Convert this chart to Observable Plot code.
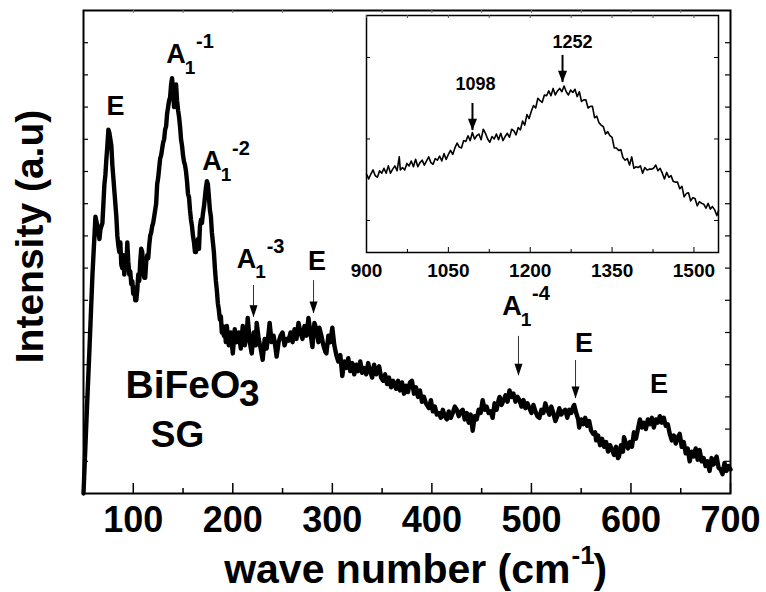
<!DOCTYPE html>
<html><head><meta charset="utf-8">
<script src="https://cdn.jsdelivr.net/npm/d3@7"></script>
<script src="https://cdn.jsdelivr.net/npm/@observablehq/plot@0.6"></script>
<style>
body{margin:0;background:#fff}
#wrap{position:relative;width:766px;height:592px}
#wrap svg{position:absolute;left:0;top:0}
</style></head><body><div id="wrap"></div>
<script>
// ---------- main Raman spectrum [wave number, intensity] ----------
const mainSpectrum = [[50,0],[53,2.3],[56,4.5],[59,6.8],[62,8.6],[64,8.3],[66,7.9],[67,8.2],[69,8.4],[71,9.6],[72,9.9],[73,10.4],[74,10.8],[75,11.3],[76,11.2],[77,11.0],[78,10.8],[79,10.2],[80,9.8],[81,9.4],[82,9.0],[83,8.6],[84,8.0],[85,7.7],[86,7.5],[87,7.8],[88,7.1],[89,7.0],[90,7.4],[91,6.8],[92,7.2],[93,7.0],[94,7.8],[95,7.2],[96,6.8],[97,6.9],[98,6.5],[99,6.6],[100,6.2],[101,6.4],[102,6.0],[103,6.0],[104,6.3],[105,6.8],[106,6.6],[107,7.2],[108,7.6],[109,7.5],[110,7.0],[111,6.7],[112,6.7],[113,7.2],[114,7.4],[115,7.3],[116,7.7],[117,8.0],[118,8.1],[119,8.3],[120,8.4],[121,8.6],[122,8.8],[123,9.0],[124,9.6],[125,9.8],[126,10.1],[127,10.4],[128,10.5],[129,10.7],[130,10.9],[131,11.0],[132,11.3],[133,11.4],[134,11.8],[135,12.0],[136,12.2],[137,12.3],[138,12.7],[139,12.9],[140,12.5],[141,12.0],[142,12.4],[143,12.7],[144,12.2],[145,11.9],[146,11.7],[147,11.4],[148,11.0],[149,10.8],[150,10.5],[151,10.3],[152,10.2],[153,10.0],[154,9.7],[155,9.3],[156,9.2],[157,8.8],[158,8.5],[159,8.3],[160,8.0],[161,7.8],[162,7.5],[163,7.5],[164,7.8],[165,7.9],[166,7.6],[167,8.3],[168,8.5],[169,8.4],[170,8.7],[171,8.9],[172,9.2],[173,9.5],[174,9.7],[175,9.6],[176,9.2],[177,8.8],[178,8.6],[179,8.1],[180,7.8],[181,7.5],[182,7.0],[183,6.6],[184,6.3],[185,5.9],[186,5.7],[187,5.4],[188,5.5],[189,5.0],[190,5.2],[191,4.9],[192,5.1],[193,4.7],
[194,5.2],[196,4.6],[198,5.0],[200,4.35],[202,5.1],[204,4.7],[206,5.0],[208,4.5],[210,5.2],[212,4.6],[214,5.0],[215,5.45],[217,4.7],[219,4.35],[221,5.0],[223,4.6],[224,5.3],[226,4.8],[228,4.5],[230,4.15],[232,4.8],[234,4.5],[236,5.0],[237,5.3],[239,4.7],[241,4.9],[243,4.5],[244,4.25],[246,4.7],[248,4.9],[250,5.0],[252,4.6],[254,4.8],[256,4.75],[258,5.0],[260,4.7],[262,5.1],[264,4.8],[266,5.3],[268,5.0],[270,4.8],[272,5.2],[274,4.9],[276,5.45],[278,5.0],[280,4.55],[282,5.3],[284,5.1],[286,4.7],[287,5.15],[289,4.9],[291,4.6],[293,4.4],[294,4.35],[296,4.9],[298,4.7],[300,5.15],[302,4.6],[304,4.3],[306,4.1],[308,4.3],[310,3.65],[312,4.1],[314,3.9],[316,4.2],[318,3.8],[320,4.05],[322,3.7],[324,4.0],[326,3.8],[328,4.1],[330,3.75],[332,3.9],[334,3.7],[336,4.05],[338,3.8],[340,3.6],[342,4.0],[344,3.7],[347,3.95],[349,3.6],[351,3.5],[353,3.7],[355,3.4],[357,3.6],[359,3.3],[361,3.5],[364,3.25],[366,3.5],[368,3.2],[370,3.45],[372,3.1],[374,3.35],[376,3.15],[378,3.45],[380,3.5],[382,3.1],[384,3.3],[386,3.0],[388,3.2],[390,2.85],[392,3.0],[394,2.8],[397,2.65],[399,2.9],[401,2.55],[403,2.7],[405,2.45],[407,2.5],[409,2.35],[411,2.6],[413,2.4],[415,2.3],[417,2.55],[419,2.35],[421,2.5],[423,2.7],[425,2.6],[427,2.4],[429,2.55],[431,2.6],[433,2.3],[435,2.5],[437,2.2],[439,2.45],[441,1.95],[443,2.4],[445,2.3],[447,2.6],[449,2.5],[451,2.9],[453,2.6],[455,2.7],[457,2.5],[459,2.55],[461,2.35],[463,2.8],[465,2.6],[467,2.9],[468,3.0],[470,2.75],[472,2.9],[474,3.05],[476,2.85],[478,3.2],[480,3.0],[482,3.1],[484,2.85],[486,3.0],[488,2.9],[490,2.7],[492,2.9],[494,2.65],[496,2.8],[498,2.65],[500,2.5],[502,2.75],[504,2.55],[506,2.4],[508,2.35],[510,2.6],[512,2.5],[514,2.8],[516,2.6],[518,2.45],[520,2.7],[522,2.5],[524,2.25],[526,2.4],[528,2.65],[530,2.45],[532,2.55],[534,2.6],[536,2.35],[538,2.6],[540,2.5],[542,2.7],[543,2.75],[545,2.5],[547,2.3],[548,2.05],[550,2.3],[552,2.15],[554,2.35],[556,2.1],[558,2.25],[560,1.95],[562,1.85],[564,1.9],[565,1.65],[567,1.8],[569,1.5],[571,1.7],[573,1.45],[575,1.6],[577,1.3],[579,1.5],[581,1.35],[583,1.2],[585,1.45],[587,1.1],[588,1.15],[590,1.5],[592,1.3],[593,1.75],[595,1.55],[597,1.4],[599,1.6],[601,1.45],[603,1.9],[605,1.7],[607,2.0],[609,2.3],[611,2.05],[613,2.2],[615,2.0],[617,2.3],[619,2.15],[621,2.35],[623,2.05],[625,2.3],[627,2.2],[629,2.4],[631,2.2],[633,2.35],[635,2.1],[637,2.15],[639,1.85],[641,1.65],[643,1.8],[645,1.55],[647,1.75],[649,1.85],[651,1.45],[653,1.6],[655,1.25],[657,1.4],[659,1.0],[661,1.3],[663,1.15],[665,1.4],[667,1.05],[669,1.35],[671,1.0],[673,1.1],[675,0.85],[677,1.0],[679,0.7],[681,1.1],[683,0.9],[686,1.15],[688,0.8],[690,0.75],[692,0.6],[694,0.95],[696,0.7],[698,0.85],[700,0.75]];

// ---------- inset spectrum [wave number, intensity] ----------
const insetSpectrum = [[900,1.57],[904,1.51],[908,1.57],[912,1.62],[916,1.55],[920,1.53],[924,1.61],[928,1.58],[932,1.64],[936,1.58],[940,1.67],[944,1.58],[948,1.63],[952,1.67],[956,1.61],[960,1.78],[962,1.62],[966,1.65],[970,1.62],[974,1.7],[978,1.67],[982,1.73],[986,1.66],[990,1.75],[994,1.66],[998,1.71],[1002,1.74],[1006,1.68],[1010,1.73],[1014,1.78],[1018,1.71],[1022,1.69],[1026,1.76],[1030,1.74],[1034,1.79],[1038,1.73],[1042,1.82],[1046,1.75],[1050,1.81],[1054,1.86],[1058,1.81],[1062,1.89],[1066,1.95],[1070,1.9],[1074,1.89],[1078,1.98],[1082,1.97],[1086,2.04],[1090,1.98],[1094,2.08],[1098,2.0],[1102,2.04],[1106,2.06],[1110,1.99],[1114,2.12],[1118,2.07],[1122,2.0],[1126,1.96],[1130,2.03],[1134,2.0],[1138,2.06],[1142,1.99],[1146,2.07],[1150,1.98],[1154,2.03],[1158,2.07],[1162,2.02],[1166,2.12],[1170,2.1],[1174,2.05],[1178,2.14],[1182,2.11],[1186,2.22],[1190,2.17],[1194,2.3],[1198,2.25],[1202,2.34],[1206,2.41],[1210,2.38],[1214,2.5],[1218,2.47],[1222,2.45],[1226,2.54],[1230,2.53],[1234,2.59],[1238,2.53],[1242,2.62],[1246,2.54],[1250,2.59],[1254,2.62],[1258,2.58],[1262,2.65],[1266,2.58],[1270,2.54],[1274,2.6],[1278,2.57],[1282,2.61],[1286,2.52],[1290,2.58],[1294,2.46],[1298,2.48],[1302,2.48],[1306,2.38],[1310,2.4],[1314,2.4],[1318,2.26],[1322,2.28],[1326,2.2],[1330,2.17],[1334,2.15],[1338,2.06],[1342,2.09],[1346,2.04],[1350,2.02],[1354,1.89],[1358,1.89],[1362,1.86],[1366,1.87],[1370,1.77],[1374,1.74],[1378,1.76],[1382,1.68],[1386,1.78],[1390,1.64],[1394,1.66],[1398,1.65],[1402,1.67],[1406,1.58],[1410,1.65],[1414,1.62],[1418,1.63],[1422,1.63],[1426,1.64],[1430,1.68],[1434,1.61],[1438,1.64],[1442,1.58],[1446,1.51],[1450,1.59],[1454,1.53],[1458,1.55],[1462,1.48],[1466,1.47],[1470,1.47],[1474,1.39],[1478,1.42],[1482,1.29],[1486,1.33],[1490,1.34],[1494,1.24],[1498,1.28],[1502,1.27],[1506,1.18],[1510,1.23],[1514,1.21],[1518,1.2],[1522,1.15],[1526,1.21],[1530,1.14],[1534,1.17],[1538,1.13],[1542,1.06],[1545,1.12]];

// ---------- ticks ----------
const xMajorTicks = [100, 200, 300, 400, 500, 600, 700];
const xMinorTicks = [150, 250, 350, 450, 550, 650];
const xTopTicks = [100, 150, 200, 250, 300, 350, 400, 450, 500, 550, 600, 650];
const yTicks = [1, 2, 3, 4, 5, 6, 7, 8, 9, 10, 11, 12, 13, 14];
const insetXTicks = [900, 1050, 1200, 1350, 1500];
const insetXMinor = [975, 1125, 1275, 1425];
const insetYTicks = [1, 2, 3];

// ---------- annotations ----------
const eLabelX = [82.1, 284.6, 552.8, 628.2];
const eLabelY = [12.02, 7.2, 4.67, 3.39];
const aLabelX = [142.9, 179.1, 213.8, 480.5];
const aLabelY = [13.63, 10.31, 7.27, 5.81];
const aOrders = ["-1", "-2", "-3", "-4"];
const arrowX = [220.8, 281.1, 487.0, 544.3];
const arrowTop = [6.46, 6.61, 4.88, 4.13];
const arrowTip = [5.47, 5.59, 3.66, 2.95];
const insetLabels = ["1098", "1252"];
const insetLabelX = [1099.7, 1277.5];
const insetLabelY = [2.675, 3.19];
const insetArrowX = [1094.2, 1259.2];
const insetArrowTop = [2.436, 3.025];
const insetArrowTip = [2.104, 2.693];

const spectrum = mainSpectrum.map(([wn, v]) => ({wn, v}));
const inset = insetSpectrum.map(([wn, v]) => ({wn, v}));
const eLabels = eLabelX.map((x, i) => ({x, y: eLabelY[i]}));
const aLabels = aLabelX.map((x, i) => ({x, y: aLabelY[i], order: aOrders[i]}));
const arrows = arrowX.map((x, i) => ({x, y1: arrowTop[i], y2: arrowTip[i]}));
const iLabels = insetLabels.map((t, i) => ({t, x: insetLabelX[i], y: insetLabelY[i]}));
const iArrows = insetArrowX.map((x, i) => ({x, y1: insetArrowTop[i], y2: insetArrowTip[i]}));

function headSymbol(k) {
  return {draw(ctx, size) {
    const r = Math.sqrt(size / Math.PI);
    ctx.moveTo(0, 0); ctx.lineTo(-r, -k * r); ctx.lineTo(r, -k * r); ctx.closePath();
  }};
}

const FONT = "'Liberation Sans', Arial, Helvetica, sans-serif";
const W = 766, H = 592;
const mL = 83, mR = 36, mT = 10, mB = 99;
const fW = W - mL - mR, fH = H - mT - mB;

const main = Plot.plot({
  width: W, height: H,
  marginLeft: mL, marginRight: mR, marginTop: mT, marginBottom: mB,
  x: {domain: [50, 700], axis: null},
  y: {domain: [0, 15], axis: null},
  style: {fontFamily: FONT, background: "white", overflow: "visible"},
  marks: [
    Plot.line(spectrum, {x: "wn", y: "v", stroke: "black", strokeWidth: 4.4, strokeLinejoin: "round"}),
    Plot.frame({stroke: "black", strokeWidth: 2}),
    Plot.tickX(xMajorTicks, {x: d => d, insetTop: fH - 10, stroke: "black", strokeWidth: 1.5}),
    Plot.tickX(xMinorTicks, {x: d => d, insetTop: fH - 5, stroke: "black", strokeWidth: 1.5}),
    Plot.tickX(xTopTicks, {x: d => d, insetBottom: fH - 3, stroke: "#777", strokeWidth: 1}),
    Plot.tickY(yTicks, {y: d => d, insetRight: fW - 5, stroke: "black", strokeWidth: 1.2}),
    Plot.tickY(yTicks, {y: d => d, insetLeft: fW - 5, stroke: "black", strokeWidth: 1.2}),
    Plot.text(xMajorTicks, {x: d => d, text: d => String(d), frameAnchor: "bottom", lineAnchor: "top", dy: 13, fontSize: 36, fontWeight: "bold"}),
    // axis titles
    Plot.text(["wave number (cm"], {text: d => d, frameAnchor: "bottom", textAnchor: "end", lineAnchor: "bottom", dx: 163.5, dy: 89, fontSize: 41, fontWeight: "bold"}),
    Plot.text(["-1"], {text: d => d, frameAnchor: "bottom", textAnchor: "start", lineAnchor: "bottom", dx: 164.5, dy: 70, fontSize: 26, fontWeight: "bold"}),
    Plot.text([")"], {text: d => d, frameAnchor: "bottom", textAnchor: "start", lineAnchor: "bottom", dx: 186.5, dy: 89, fontSize: 41, fontWeight: "bold"}),
    Plot.text(["Intensity (a.u)"], {text: d => d, frameAnchor: "left", rotate: -90, textAnchor: "middle", lineAnchor: "bottom", dx: -41, dy: -15.5, fontSize: 39, fontWeight: "bold"}),
    // peak labels
    Plot.text(eLabels, {x: "x", y: "y", text: () => "E", fontSize: 27, fontWeight: "bold"}),
    Plot.text(aLabels, {x: "x", y: "y", text: () => "A", fontSize: 27, fontWeight: "bold"}),
    Plot.text(aLabels, {x: "x", y: "y", text: () => "1", dx: 14, dy: 13, fontSize: 19, fontWeight: "bold"}),
    Plot.text(aLabels, {x: "x", y: "y", text: "order", dx: 29, dy: -13, fontSize: 20, fontWeight: "bold"}),
    Plot.ruleX(arrows, {x: "x", y1: "y1", y2: "y2", stroke: "#333", strokeWidth: 1}),
    Plot.dot(arrows, {x: "x", y: "y2", symbol: headSymbol(3), r: 4, fill: "black", stroke: "none"}),
    // sample label
    Plot.text(["BiFeO"], {text: d => d, x: () => 92.2, y: () => 3.35, textAnchor: "start", fontSize: 39, fontWeight: "bold"}),
    Plot.text(["3"], {text: d => d, x: () => 216.5, y: () => 3.09, fontSize: 37, fontWeight: "bold"}),
    Plot.text(["SG"], {text: d => d, x: () => 144.4, y: () => 1.80, fontSize: 37, fontWeight: "bold"})
  ]
});

const iL = 366, iR = 48, iT = 15, iB = 340;
const iW = W - iL - iR, iH = H - iT - iB;
const insetPlot = Plot.plot({
  width: W, height: H,
  marginLeft: iL, marginRight: iR, marginTop: iT, marginBottom: iB,
  x: {domain: [900, 1545], axis: null},
  y: {domain: [0.607, 3.515], axis: null},
  style: {fontFamily: FONT, background: "transparent", overflow: "visible"},
  marks: [
    Plot.frame({fill: "white", stroke: "none"}),
    Plot.line(inset, {x: "wn", y: "v", stroke: "black", strokeWidth: 1.6, strokeLinejoin: "round"}),
    Plot.frame({stroke: "black", strokeWidth: 1.5}),
    Plot.tickX(insetXTicks, {x: d => d, insetTop: iH - 5, stroke: "black"}),
    Plot.tickX(insetXMinor, {x: d => d, insetTop: iH - 3, stroke: "black"}),
    Plot.tickX(insetXTicks.concat(insetXMinor), {x: d => d, insetBottom: iH - 3, stroke: "#555"}),
    Plot.tickY(insetYTicks, {y: d => d, insetRight: iW - 4, stroke: "black"}),
    Plot.tickY(insetYTicks, {y: d => d, insetLeft: iW - 4, stroke: "black"}),
    Plot.text(insetXTicks, {x: d => d, text: d => String(d), frameAnchor: "bottom", lineAnchor: "top", dy: 11, fontSize: 19, fontWeight: "bold"}),
    Plot.text(iLabels, {x: "x", y: "y", text: "t", fontSize: 18, fontWeight: "bold"}),
    Plot.ruleX(iArrows, {x: "x", y1: "y1", y2: "y2", stroke: "black", strokeWidth: 2}),
    Plot.dot(iArrows, {x: "x", y: "y2", symbol: headSymbol(2.6), r: 4.5, fill: "black", stroke: "none"})
  ]
});

const wrap = document.getElementById("wrap");
wrap.appendChild(main);
wrap.appendChild(insetPlot);
</script>
</body></html>
